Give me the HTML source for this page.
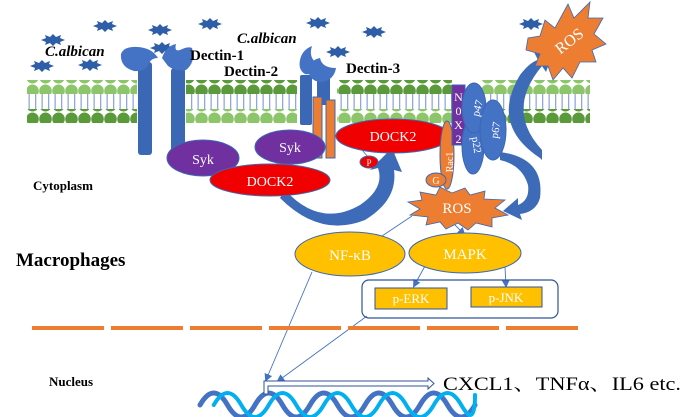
<!DOCTYPE html>
<html><head><meta charset="utf-8"><style>
html,body{margin:0;padding:0;background:#fff;}
svg{display:block;font-family:"Liberation Serif",serif;}
</style></head><body>
<svg width="698" height="417" viewBox="0 0 698 417" xmlns="http://www.w3.org/2000/svg">
<defs>
<pattern id="hl" x="0" y="0" width="13" height="14" patternUnits="userSpaceOnUse"><ellipse cx="6.5" cy="7" rx="6.3" ry="6.5" fill="#8cc56a"/></pattern>
<pattern id="hd" x="0" y="0" width="13" height="14" patternUnits="userSpaceOnUse"><ellipse cx="6.5" cy="7" rx="6.3" ry="6.5" fill="#5a9a3a"/></pattern>
<pattern id="tl" x="0" y="0" width="6.5" height="20" patternUnits="userSpaceOnUse"><rect x="2.5" y="0" width="1.3" height="20" fill="#8fa8dc"/></pattern>
<marker id="ar" markerWidth="8" markerHeight="8" refX="6" refY="4" orient="auto" markerUnits="userSpaceOnUse"><path d="M0,0 L8,4 L0,8 Z" fill="#4472c4"/></marker>
<polygon id="st" points="-12,0 -7,-2 -8,-5 -3,-3 0,-6 3,-3 8,-5 7,-2 12,0 7,2 8,5 3,3 0,6 -3,3 -8,5 -7,2" fill="#2f5ea8"/>
</defs>

<!-- membrane -->
<g>
<rect x="27" y="93" width="110" height="17" fill="url(#tl)"/>
<rect x="186" y="93" width="111" height="17" fill="url(#tl)"/>
<rect x="337" y="93" width="115" height="17" fill="url(#tl)"/>
<rect x="480" y="93" width="110" height="17" fill="url(#tl)"/>
<rect x="27" y="80" width="110" height="14" fill="url(#hl)"/>
<rect x="186" y="80" width="111" height="14" fill="url(#hd)"/>
<rect x="337" y="80" width="115" height="14" fill="url(#hd)"/>
<rect x="480" y="80" width="110" height="14" fill="url(#hl)"/>
<rect x="27" y="109" width="110" height="14" fill="url(#hd)"/>
<rect x="186" y="109" width="111" height="14" fill="url(#hl)"/>
<rect x="337" y="109" width="115" height="14" fill="url(#hl)"/>
<rect x="497" y="109" width="93" height="14" fill="url(#hd)"/>
</g>

<!-- pathogens -->
<use href="#st" x="53" y="40"/><use href="#st" x="105" y="26"/><use href="#st" x="160" y="30"/><use href="#st" x="210" y="24"/>
<use href="#st" x="42" y="66"/><use href="#st" x="90" y="65"/><use href="#st" x="162" y="48"/>
<use href="#st" x="318" y="23"/><use href="#st" x="338" y="52"/><use href="#st" x="374" y="32"/><use href="#st" x="531" y="24"/>

<!-- Dectin-1 -->
<rect x="138" y="62" width="14" height="93" rx="3" fill="#3a68b5"/>
<rect x="171" y="68" width="14" height="87" rx="3" fill="#3a68b5"/>
<path d="M121,54 Q124,46 138,47 Q152,48 158,58 Q150,58 148,66 Q143,72 134,71 Q120,67 121,54Z" fill="#4472c4"/>
<path d="M162,58 Q166,46 176,44 Q174,52 180,50 Q188,46 192,48 Q196,62 186,70 Q176,72 168,66Z" fill="#4472c4"/>
<!-- Dectin-2/3 -->
<rect x="300" y="75" width="12" height="50" rx="2" fill="#3a68b5"/>
<rect x="317" y="75" width="13" height="30" rx="2" fill="#3a68b5"/>
<path d="M300,60 Q302,50 312,46 Q308,58 318,64 Q314,76 305,74 Q298,70 300,60Z" fill="#4472c4"/>
<path d="M308,70 Q310,60 320,58 Q322,68 336,68 Q334,80 322,82 Q310,82 308,70Z" fill="#4472c4"/>
<rect x="313" y="97" width="9" height="61" fill="#ed7d31" stroke="#3a68b5" stroke-width="1"/>
<rect x="326" y="100" width="9" height="58" fill="#ed7d31" stroke="#3a68b5" stroke-width="1"/>

<!-- big curved arrow from DOCK2 -->
<path d="M285,190 Q320,228 360,205 Q385,188 378,168 L370,170 L392,148 L402,172 L394,170 Q398,200 365,220 Q320,238 280,198Z" fill="#3d6bb8"/>

<!-- Syk, DOCK2 -->
<ellipse cx="203" cy="158" rx="36" ry="18" fill="#7030a0" stroke="#3a68b5"/>
<text x="203" y="164" font-size="14" fill="#fff" text-anchor="middle">Syk</text>
<ellipse cx="290" cy="147" rx="35" ry="17" fill="#7030a0" stroke="#3a68b5"/>
<text x="290" y="152" font-size="14" fill="#fff" text-anchor="middle">Syk</text>
<ellipse cx="270" cy="180" rx="60" ry="16" fill="#f00000" stroke="#3a68b5"/>
<text x="270" y="186" font-size="14" fill="#fff" text-anchor="middle">DOCK2</text>
<ellipse cx="393" cy="136" rx="57" ry="17" fill="#f00000" stroke="#3a68b5"/>
<text x="393" y="141" font-size="14" fill="#fff" text-anchor="middle">DOCK2</text>
<line x1="362" y1="150" x2="368" y2="157" stroke="#4472c4" stroke-width="0.8"/>
<ellipse cx="369" cy="162" rx="9" ry="6" fill="#f00000" stroke="#3a68b5"/>
<text x="369" y="166" font-size="9" fill="#fff" text-anchor="middle">P</text>

<!-- NOX complex -->
<ellipse cx="447" cy="155" rx="7" ry="34" fill="#ed7d31" stroke="#3a68b5"/>
<text x="450" y="165" font-size="10" fill="#fff" text-anchor="middle" transform="rotate(-90 450 162)">Rac1</text>
<ellipse cx="436" cy="180" rx="10" ry="7" fill="#ed7d31" stroke="#3a68b5"/>
<text x="436" y="184" font-size="10" fill="#fff" text-anchor="middle">G</text>
<rect x="452" y="85" width="13" height="60" fill="#7030a0" stroke="#3a68b5"/>
<text x="458.5" y="101" font-size="12" fill="#fff" text-anchor="middle">N</text>
<text x="458.5" y="115" font-size="12" fill="#fff" text-anchor="middle">0</text>
<text x="458.5" y="129" font-size="12" fill="#fff" text-anchor="middle">X</text>
<text x="458.5" y="143" font-size="12" fill="#fff" text-anchor="middle">2</text>
<ellipse cx="473" cy="146" rx="11" ry="28" fill="#4472c4" stroke="#3a68b5"/>
<ellipse cx="474" cy="108" rx="12" ry="25" fill="#4472c4" stroke="#3a68b5"/>
<ellipse cx="493" cy="130" rx="13" ry="30" fill="#4472c4" stroke="#3a68b5"/>
<text x="477" y="112" font-size="11" fill="#fff" text-anchor="middle" transform="rotate(-75 477 108)">p47</text>
<text x="476" y="148" font-size="11" fill="#fff" text-anchor="middle" transform="rotate(80 476 145)">p22</text>
<text x="495" y="134" font-size="11" fill="#fff" text-anchor="middle" transform="rotate(-80 495 130)">p67</text>

<!-- arrow to top ROS -->
<path d="M540,158 Q490,125 520,75 Q530,62 538,60 L534,52 L552,56 L546,72 L542,66 Q505,110 542,150 L542,160Z" fill="#3d6bb8"/>
<!-- arrow to bottom ROS -->
<path d="M500,152 Q545,158 540,198 Q536,212 520,214 L522,220 L503,211 L518,198 L518,205 Q530,200 528,185 Q522,165 500,160Z" fill="#3d6bb8"/>

<!-- ROS stars -->
<polygon points="528,38 540,36 545,20 555,28 568,4 574,18 590,2 588,18 603,18 594,34 606,44 592,50 596,62 580,62 572,78 563,68 553,80 548,66 535,66 540,54 526,50" fill="#ed7d31" stroke="#3a68b5" stroke-width="0.8"/>
<text x="570" y="46" font-size="16" fill="#fff" text-anchor="middle" transform="rotate(-38 570 42)">ROS</text>
<polygon points="408,202 422,200 420,192 436,195 440,187 452,193 465,188 470,195 485,191 484,199 505,200 495,208 508,215 492,218 492,227 476,223 468,230 458,223 446,229 440,222 426,225 428,217 410,215 420,209" fill="#ed7d31" stroke="#3a68b5" stroke-width="0.8"/>
<text x="457" y="213" font-size="15" fill="#fff" text-anchor="middle">ROS</text>

<!-- thin lines -->
<g stroke="#4472c4" stroke-width="0.9" fill="none">
<line x1="412" y1="216" x2="382" y2="236"/>
<line x1="455" y1="225" x2="464" y2="234" marker-end="url(#ar)"/>
<line x1="425" y1="266" x2="414" y2="286" marker-end="url(#ar)"/>
<line x1="505" y1="267" x2="506" y2="286" marker-end="url(#ar)"/>
<line x1="312" y1="272" x2="266" y2="380" marker-end="url(#ar)"/>
<line x1="367" y1="316" x2="278" y2="381" marker-end="url(#ar)"/>
</g>

<!-- NF-kB MAPK -->
<ellipse cx="350" cy="254" rx="55" ry="22" fill="#ffc000" stroke="#3a68b5"/>
<text x="350" y="260" font-size="15" fill="#fff" text-anchor="middle">NF-κB</text>
<ellipse cx="465" cy="253" rx="56" ry="20" fill="#ffc000" stroke="#3a68b5"/>
<text x="465" y="259" font-size="15" fill="#fff" text-anchor="middle">MAPK</text>
<rect x="362" y="280" width="196" height="38" rx="7" fill="none" stroke="#2f5597" stroke-width="1.2"/>
<rect x="375" y="288" width="72" height="21" fill="#ffc000" stroke="#2f5597"/>
<text x="411" y="303" font-size="13" fill="#fff" text-anchor="middle">p-ERK</text>
<rect x="471" y="287" width="71" height="20" fill="#ffc000" stroke="#2f5597"/>
<text x="506" y="302" font-size="13" fill="#fff" text-anchor="middle">p-JNK</text>

<!-- nuclear membrane -->
<line x1="32" y1="328" x2="583" y2="328" stroke="#ed7d31" stroke-width="4" stroke-dasharray="72,7"/>

<!-- DNA -->
<g fill="none" stroke-linecap="round">
<path d="M200,405 q13.75,-24 27.5,0 t27.5,0 t27.5,0 t27.5,0 t27.5,0 t27.5,0 t27.5,0 t27.5,0 t27.5,0 t27.5,0" stroke="#4472c4" stroke-width="5"/>
<path d="M213.75,405 q13.75,-24 27.5,0 t27.5,0 t27.5,0 t27.5,0 t27.5,0 t27.5,0 t27.5,0 t27.5,0 t27.5,0 t13.75,-10" stroke="#00b0f0" stroke-width="4"/>
</g>
<!-- promoter arrow -->
<path d="M264,394 L264,381 L428,381 L428,378 L434,383.5 L428,389 L428,386 L268,386 L268,394Z" fill="#fff" stroke="#2f5597" stroke-width="1"/>

<!-- labels -->
<g font-weight="bold" fill="#000">
<text x="45" y="56" font-size="15" font-style="italic">C.albican</text>
<text x="237" y="43" font-size="15" font-style="italic">C.albican</text>
<text x="190" y="60" font-size="15">Dectin-1</text>
<text x="224" y="76" font-size="15">Dectin-2</text>
<text x="346" y="73" font-size="15">Dectin-3</text>
<text x="33" y="190" font-size="13">Cytoplasm</text>
<text x="16" y="266" font-size="19">Macrophages</text>
<text x="49" y="386" font-size="13">Nucleus</text>
</g>
<text x="443" y="390" font-size="19" fill="#000" textLength="238" lengthAdjust="spacingAndGlyphs" font-family="'Liberation Serif','Noto Serif CJK SC',serif">CXCL1、TNFα、IL6 etc.</text>
</svg>
</body></html>
